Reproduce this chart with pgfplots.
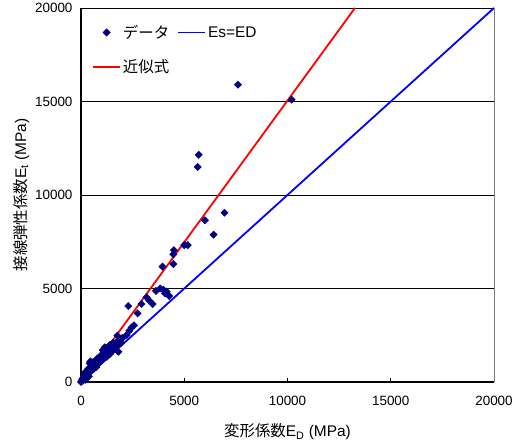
\documentclass[border=0pt]{standalone}
\usepackage{fontspec}
\setmainfont{Liberation Sans}
\newfontfamily\jp{Noto Sans CJK JP}
\usepackage{pgfplots}
\pgfplotsset{compat=1.18}
\definecolor{navy}{RGB}{0,0,128}
\pgfplotsset{
  mylineleg/.style={legend image code/.code={\draw[##1] (0bp,0bp) -- (27bp,0bp);}},
  mymarkleg/.style={legend image code/.code={\draw[##1] plot coordinates {(13.5bp,0bp)};}},
}
\begin{document}
\begin{tikzpicture}
\path[use as bounding box] (-81bp,-63bp) rectangle (435bp,382bp);
\begin{axis}[
  at={(0,0)}, anchor=south west,
  scale only axis, width=413bp, height=374bp,
  xmin=0, xmax=20000, ymin=0, ymax=20000,
  xtick={0,5000,...,20000}, ytick={0,5000,...,20000},
  scaled ticks=false,
  /pgf/number format/assume math mode=true,
  /pgf/number format/1000 sep={},
  axis lines=left, axis line style={-, line width=1.3bp, black},
  tick align=inside, major tick length=4bp, tick style={black, line width=0.8bp},
  ymajorgrids, grid style={black, line width=0.7bp},
  ticklabel style={font=\fontsize{13.5}{16}\selectfont},
  xticklabel style={yshift=-11bp},
  yticklabel style={xshift=-5bp},
  xlabel={{\jp 変形係数}E\textsubscript{D} (MPa)},
  ylabel={{\jp 接線弾性係数}E\textsubscript{t} (MPa)},
  label style={font=\fontsize{15.5}{18}\selectfont},
  xlabel style={at={(axis description cs:0.5,-0.133)}, anchor=center},
  ylabel style={at={(axis description cs:-0.145,0.5)}, anchor=center},
  clip=false,
  legend columns=2,
  legend style={draw=none, fill=none, inner sep=0pt, row sep=16bp,
    at={(axis description cs:0.0266,0.96)}, anchor=north west,
    font=\fontsize{15.5}{18}\selectfont,
    /tikz/every even column/.append style={column sep=6bp}},
  legend cell align=left,
]
\addplot[only marks, mark=square*, mark size=2.6bp,
  mark options={rotate=45, draw=navy, fill=navy}, mymarkleg]
coordinates {
(7600,15900) (10200,15100) (5700,12150) (5650,11500) (6000,8650) (6950,9050)
(6420,7880) (5000,7320) (5170,7320) (4500,7050) (4470,6830) (4470,6310)
(3950,6170) (3830,5000) (3630,4870) (3990,4930) (4150,4830) (4270,4600)
(4070,4740) (3180,4530) (3310,4350) (3470,4170) (2930,4170) (2290,4060)
(2740,3670) (2570,3030) (2450,2920) (2340,2740) (2210,2510) (1760,2480)
(1810,1620) (1560,2100) (1810,2150) (1400,1980)
(0,0) (30,50) (60,150) (100,80) (120,250) (150,180) (200,320) (220,120)
(250,400) (280,250) (300,550) (350,450) (380,300) (400,650) (420,1000)
(450,1100) (500,600) (520,900) (550,750) (600,1000) (620,700) (650,850)
(700,1100) (720,900) (750,800) (800,1150) (820,1000) (850,1300) (900,1050)
(920,1200) (950,1400) (1000,1150) (1000,1300) (1050,1500) (1100,1250)
(1100,1600) (1150,1400) (1200,1450) (1200,1700) (1250,1350) (1300,1600)
(1350,1800) (1400,1500) (1450,1750) (1500,1900) (1550,1700) (1600,2000)
(1650,1850) (1700,2100) (1750,1950) (1800,2200) (1900,2250) (2000,2350)
(1450,1600) (1300,1450) (600,850) (350,700) (180,500) (480,800)
(1050,1700) (1150,1850) (250,200) (550,1050) (780,1250) (1350,1550)
(1600,1750) (1950,2100) (900,1300) (680,950)
};
\addlegendentry{\jp データ}
\addplot[blue, line width=1.8bp, mylineleg]
coordinates {(0,0) (20000,20000)};
\addlegendentry{Es=ED}
\addplot[red, line width=1.8bp, mylineleg]
coordinates {(0,-100) (13267,20000)};
\addlegendentry{\jp 近似式}
\draw[gray, line width=1bp] (rel axis cs:1,0) -- (rel axis cs:1,1);
\end{axis}
\end{tikzpicture}
\end{document}
